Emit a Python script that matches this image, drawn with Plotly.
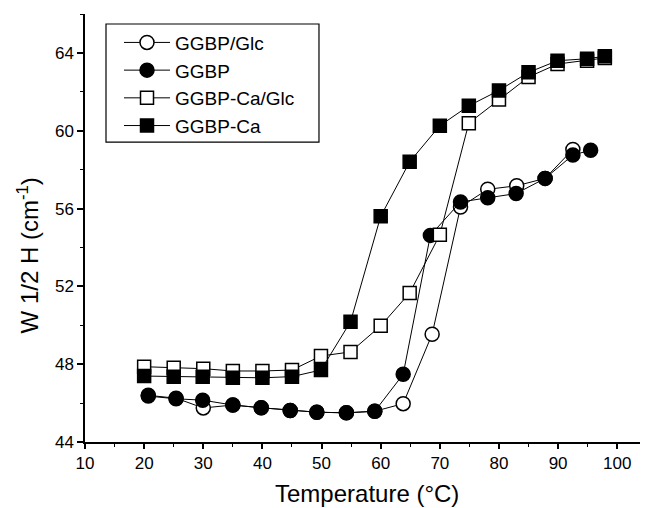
import plotly.graph_objects as go

# GGBP/Glc (open circles)
t_ggbp_glc = [20.7, 25.4, 30.0, 35.0, 39.8, 44.7, 49.2, 54.2, 59.0, 63.8, 68.7, 73.5, 78.1, 83.0, 87.8, 92.5]
w_ggbp_glc = [46.40, 46.25, 45.75, 45.90, 45.76, 45.62, 45.53, 45.50, 45.58, 45.97, 49.54, 56.08, 56.99, 57.17, 57.55, 59.04]

# GGBP (filled circles)
t_ggbp = [20.7, 25.4, 29.9, 35.0, 39.8, 44.7, 49.2, 54.2, 59.0, 63.8, 68.4, 73.5, 78.1, 82.9, 87.8, 92.5, 95.5]
w_ggbp = [46.36, 46.22, 46.15, 45.90, 45.76, 45.62, 45.53, 45.50, 45.58, 47.48, 54.62, 56.34, 56.55, 56.77, 57.55, 58.75, 59.00]

# GGBP-Ca/Glc (open squares)
t_ca_glc = [20.0, 25.0, 30.0, 35.0, 40.0, 45.0, 49.9, 54.9, 60.0, 64.9, 70.0, 74.9, 80.0, 85.0, 89.9, 94.9, 97.9]
w_ca_glc = [47.87, 47.82, 47.77, 47.65, 47.65, 47.70, 48.42, 48.63, 49.97, 51.66, 54.65, 60.39, 61.60, 62.76, 63.43, 63.60, 63.74]

# GGBP-Ca (filled squares)
t_ca = [20.0, 25.0, 29.9, 35.0, 40.0, 45.0, 49.9, 54.9, 60.0, 64.9, 70.0, 74.9, 80.0, 85.0, 89.9, 94.9, 97.9]
w_ca = [47.39, 47.36, 47.36, 47.30, 47.30, 47.36, 47.70, 50.18, 55.60, 58.40, 60.26, 61.28, 62.07, 63.00, 63.60, 63.70, 63.83]

x_ticks = [10, 20, 30, 40, 50, 60, 70, 80, 90, 100]
y_ticks = [44, 48, 52, 56, 60, 64]

FONT = "Arial, Liberation Sans, sans-serif"
line = dict(color="black", width=1)

fig = go.Figure()
fig.add_trace(go.Scatter(x=t_ggbp_glc, y=w_ggbp_glc, name="GGBP/Glc", mode="lines+markers",
                         line=line, marker=dict(symbol="circle", size=14, color="white",
                                                line=dict(color="black", width=1.5))))
fig.add_trace(go.Scatter(x=t_ggbp, y=w_ggbp, name="GGBP", mode="lines+markers",
                         line=line, marker=dict(symbol="circle", size=14, color="black",
                                                line=dict(color="black", width=1.5))))
fig.add_trace(go.Scatter(x=t_ca_glc, y=w_ca_glc, name="GGBP-Ca/Glc", mode="lines+markers",
                         line=line, marker=dict(symbol="square", size=13, color="white",
                                                line=dict(color="black", width=1.5))))
fig.add_trace(go.Scatter(x=t_ca, y=w_ca, name="GGBP-Ca", mode="lines+markers",
                         line=line, marker=dict(symbol="square", size=13, color="black",
                                                line=dict(color="black", width=1.5))))

# The page body has an 8px margin; figure is 640x500 so the plot area lands at
# page x 85..648, y 14..442.
fig.update_layout(
    width=640, height=500,
    margin=dict(l=77, r=0, t=6, b=66),
    paper_bgcolor="white", plot_bgcolor="white",
    font=dict(family=FONT, color="black", size=17),
    showlegend=True,
    legend=dict(x=0.0604, y=0.9776, xanchor="left", yanchor="top",
                bgcolor="rgba(0,0,0,0)", borderwidth=0,
                font=dict(size=19, family=FONT), itemwidth=46,
                tracegroupgap=0),
    xaxis=dict(range=[10, 105.2], tickvals=x_ticks, ticks="outside", ticklen=5,
               tickwidth=1.5, tickcolor="black", showline=True, linecolor="black",
               linewidth=1.5, showgrid=False, zeroline=False,
               minor=dict(dtick=5, ticks="outside", ticklen=3, tickcolor="black", tickwidth=1),
               tickfont=dict(size=17)),
    yaxis=dict(range=[44, 66], tickvals=y_ticks, ticks="outside", ticklen=6,
               tickwidth=1.5, tickcolor="black", showline=True, linecolor="black",
               linewidth=1.5, showgrid=False, zeroline=False,
               minor=dict(dtick=2, ticks="outside", ticklen=3, tickcolor="black", tickwidth=1),
               tickfont=dict(size=17)),
    shapes=[dict(type="rect", xref="paper", yref="paper",
                 x0=0.0373, x1=0.4156, y0=0.7005, y1=0.9766,
                 line=dict(color="black", width=1.2), fillcolor="rgba(0,0,0,0)", layer="above")],
    annotations=[
        dict(text="W 1/2 H (cm<sup>-1</sup>)", textangle=-90, xref="paper", yref="paper",
             x=-0.102, y=0.435, xanchor="center", yanchor="middle", showarrow=False,
             font=dict(size=24, family=FONT)),
        dict(text="Temperature (°C)", xref="paper", yref="paper",
             x=0.5, y=-0.12, xanchor="center", yanchor="middle", showarrow=False,
             font=dict(size=24, family=FONT)),
    ],
)

fig.write_html("out.html")
